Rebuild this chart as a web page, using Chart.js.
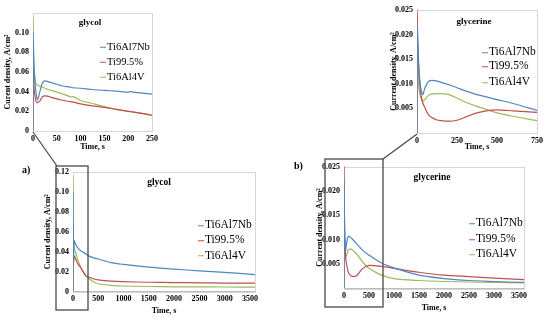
<!DOCTYPE html>
<html>
<head>
<meta charset="utf-8">
<script src="https://cdn.jsdelivr.net/npm/chart.js@4.4.0/dist/chart.umd.min.js"></script>
<style>
  body { margin: 0; background: #fff; }
  #wrap { position: relative; width: 550px; height: 322px; overflow: hidden; font-family: "Liberation Serif", serif; }
  canvas { position: absolute; }
  .ttl { position: absolute; font-weight: bold; font-size: 9px; transform: translate(-50%, -50%); white-space: nowrap; }
  .leg { position: absolute; font-size: 11px; line-height: 1; transform: translateY(-50%); white-space: nowrap; }
  .leg i { display: inline-block; width: 6px; height: 1px; vertical-align: middle; margin-right: 1px; }
  .tag { position: absolute; font-weight: bold; font-size: 10px; }
  svg { position: absolute; left: 0; top: 0; }
</style>
</head>
<body>
<div id="wrap">
  <svg width="550" height="322">
    <line x1="33" y1="132" x2="57" y2="166" stroke="#444" stroke-width="1.2"/>
    <rect x="56" y="166" width="32" height="144" fill="none" stroke="#555" stroke-width="1.4"/>
    <line x1="383" y1="159" x2="417" y2="134" stroke="#444" stroke-width="1.2"/>
    <rect x="325" y="159" width="58" height="148" fill="none" stroke="#555" stroke-width="1.4"/>
  </svg>
</div>
<script>
const seriesNames = ['Ti6Al7Nb', 'Ti99.5%', 'Ti6Al4V'];
const seriesColors = ['#4f86c0', '#c0504d', '#9bbb59'];

// tick labels
const glycolYTicks = [0, 0.02, 0.04, 0.06, 0.08, 0.10, 0.12];
const glycerineYTicks = [0.005, 0.010, 0.015, 0.020, 0.025];
const shortGlycolXTicks = [0, 50, 100, 150, 200, 250];
const shortGlycerineXTicks = [0, 250, 500, 750];
const fullXTicks = [0, 500, 1000, 1500, 2000, 2500, 3000, 3500];

// glycol, first 250 s
const glycolShortTime = [0, 0, 2, 5, 8, 10, 15, 20, 25, 30, 40, 50, 60, 75, 80, 85, 100, 125, 150, 175, 200, 205, 215, 250];
const glycolShortNb = [0, 0.100, 0.065, 0.045, 0.034, 0.032, 0.041, 0.049, 0.051, 0.0505, 0.049, 0.0475, 0.046, 0.0448, 0.0445, 0.044, 0.0435, 0.0422, 0.0413, 0.0405, 0.0395, 0.0400, 0.0392, 0.0375];
const glycolShortTi = [0, 0.070, 0.045, 0.033, 0.029, 0.029, 0.031, 0.035, 0.0358, 0.0355, 0.034, 0.0327, 0.0315, 0.030, 0.0297, 0.0293, 0.0275, 0.0255, 0.024, 0.022, 0.020, 0.0196, 0.019, 0.016];
const glycolShortV = [0, 0.115, 0.070, 0.050, 0.047, 0.0465, 0.0455, 0.0445, 0.0435, 0.0425, 0.041, 0.0395, 0.038, 0.0355, 0.0345, 0.035, 0.031, 0.028, 0.0248, 0.022, 0.020, 0.0197, 0.019, 0.0162];

// glycerine, first 750 s
const glycerineShortTime = [0, 0, 5, 10, 20, 35, 50, 70, 90, 120, 150, 200, 250, 300, 375, 450, 500, 600, 750];
const glycerineShortNb = [0, 0.022, 0.018, 0.014, 0.010, 0.0078, 0.0092, 0.0104, 0.0107, 0.0106, 0.0103, 0.0098, 0.0092, 0.0086, 0.0078, 0.0072, 0.0068, 0.0060, 0.0046];
const glycerineShortTi = [0, 0.025, 0.019, 0.014, 0.009, 0.0062, 0.0051, 0.0038, 0.0032, 0.0027, 0.0025, 0.0024, 0.0026, 0.0032, 0.0041, 0.0046, 0.0047, 0.0045, 0.0042];
const glycerineShortV = [0, 0.018, 0.014, 0.010, 0.0075, 0.0065, 0.0068, 0.0076, 0.0079, 0.0080, 0.0080, 0.0078, 0.0071, 0.0063, 0.0054, 0.0046, 0.0041, 0.0034, 0.0025];

// glycol, full run
const glycolTime = [0, 0, 10, 25, 50, 100, 150, 200, 250, 300, 400, 500, 750, 1000, 1500, 2000, 2500, 3000, 3600];
const glycolNb = [0, 0.100, 0.032, 0.051, 0.0475, 0.0435, 0.041, 0.0395, 0.038, 0.036, 0.034, 0.0326, 0.029, 0.0272, 0.0245, 0.0225, 0.0207, 0.0192, 0.0170];
const glycolTi = [0, 0.070, 0.029, 0.0358, 0.0327, 0.0275, 0.024, 0.020, 0.016, 0.0145, 0.0128, 0.0117, 0.0105, 0.0099, 0.0093, 0.0090, 0.0087, 0.0085, 0.0084];
const glycolV = [0, 0.115, 0.047, 0.0435, 0.0395, 0.031, 0.0248, 0.020, 0.0162, 0.0135, 0.0100, 0.0078, 0.0062, 0.0055, 0.0050, 0.0047, 0.0046, 0.0045, 0.0044];

// glycerine, full run
const glycerineTime = [0, 0, 10, 20, 35, 50, 90, 150, 250, 375, 500, 750, 1000, 1500, 2000, 2500, 3000, 3600];
const glycerineNb = [0, 0.022, 0.014, 0.010, 0.0078, 0.0092, 0.0107, 0.0103, 0.0092, 0.0078, 0.0068, 0.0052, 0.0042, 0.0027, 0.0020, 0.0016, 0.0014, 0.0012];
const glycerineTi = [0, 0.025, 0.014, 0.009, 0.0062, 0.0051, 0.0032, 0.0025, 0.0026, 0.0041, 0.0047, 0.0045, 0.0041, 0.0033, 0.0027, 0.0024, 0.0021, 0.0018];
const glycerineV = [0, 0.018, 0.010, 0.0075, 0.0065, 0.0068, 0.0079, 0.0080, 0.0071, 0.0054, 0.0041, 0.0027, 0.0020, 0.0016, 0.0014, 0.0013, 0.0012, 0.0011];

const wrap = document.getElementById('wrap');
const svgLayer = wrap.querySelector('svg');

const framePlugin = {
  id: 'frame',
  beforeDatasetsDraw(chart) {
    const { ctx, chartArea: a } = chart;
    ctx.save();
    ctx.strokeStyle = '#d6d6d6';
    ctx.lineWidth = 1;
    ctx.strokeRect(Math.round(a.left) + 0.5, Math.round(a.top) + 0.5, Math.round(a.right - a.left), Math.round(a.bottom - a.top));
    ctx.restore();
  }
};

const tickFont = { family: 'Liberation Serif', size: 8, weight: 'bold' };

function plot(cfg) {
  const [bx, by, bw, bh] = cfg.box;
  const [al, at, ar, ab] = cfg.area;
  const yLeft = cfg.yTitleX - 4.8;
  const xBottom = cfg.xTitleY + 4.8;

  const c = document.createElement('canvas');
  c.width = bw; c.height = bh;
  c.style.left = bx + 'px'; c.style.top = by + 'px';
  wrap.insertBefore(c, svgLayer);

  const datasets = cfg.values.map((vals, i) => ({
    label: seriesNames[i],
    data: vals.map((v, k) => ({ x: cfg.time[k], y: v })),
    borderColor: seriesColors[i],
    borderWidth: 1.2,
    pointRadius: 0,
    tension: 0.3,
    fill: false
  }));

  new Chart(c, {
    type: 'line',
    data: { datasets },
    plugins: [framePlugin],
    options: {
      responsive: false,
      animation: false,
      devicePixelRatio: 1,
      layout: { padding: { left: yLeft - bx, top: at - by, right: bx + bw - ar, bottom: by + bh - xBottom } },
      plugins: { legend: { display: false }, tooltip: { enabled: false } },
      scales: {
        x: {
          type: 'linear', min: 0, max: cfg.xMax,
          grid: { display: false, drawTicks: false },
          border: { color: '#bdbdbd' },
          ticks: { maxRotation: 0, autoSkip: false, padding: 3, color: '#000', font: tickFont, callback: v => String(v) },
          afterBuildTicks(s) { s.ticks = cfg.xTicks.map(v => ({ value: v })); },
          title: { display: true, text: 'Time, s', color: '#000', font: tickFont, padding: 0 },
          afterFit(s) { s.height = xBottom - ab; }
        },
        y: {
          min: 0, max: cfg.yMax,
          grid: { display: false, drawTicks: false },
          border: { color: '#bdbdbd' },
          ticks: { padding: 4, autoSkip: false, color: '#000', font: tickFont, callback: cfg.yLabel },
          afterBuildTicks(s) { s.ticks = cfg.yTicks.map(v => ({ value: v })); },
          title: { display: true, text: cfg.yTitle, color: '#000', font: tickFont, padding: 0 },
          afterFit(s) { s.width = al - yLeft; }
        }
      }
    }
  });

  const t = document.createElement('div');
  t.className = 'ttl';
  t.textContent = cfg.title;
  t.style.left = cfg.titlePos[0] + 'px';
  t.style.top = cfg.titlePos[1] + 'px';
  t.style.fontSize = cfg.titleSize + 'px';
  wrap.appendChild(t);

  seriesNames.forEach((name, i) => {
    const d = document.createElement('div');
    d.className = 'leg';
    d.style.left = cfg.legendX + 'px';
    d.style.top = cfg.legendY[i] + 'px';
    d.style.fontSize = cfg.legendSize + 'px';
    d.innerHTML = '<i style="background:' + seriesColors[i] + '"></i>';
    d.appendChild(document.createTextNode(name));
    wrap.appendChild(d);
  });
}

const glycolLabel = v => (v === 0 ? '0' : v.toFixed(2));
const glycerineLabel = v => v.toFixed(3);

plot({
  box: [0, 0, 165, 160], area: [33, 13, 152, 131], yTitleX: 8, xTitleY: 147,
  time: glycolShortTime, values: [glycolShortNb, glycolShortTi, glycolShortV],
  xMax: 250, xTicks: shortGlycolXTicks, yMax: 0.12, yTicks: glycolYTicks.slice(0, 6), yLabel: glycolLabel,
  yTitle: 'Curent density, A/cm²',
  title: 'glycol', titlePos: [90, 22], titleSize: 9,
  legendX: 100, legendY: [47, 62, 77], legendSize: 10.5
});

plot({
  box: [378, 0, 172, 160], area: [417, 10, 537, 133], yTitleX: 394, xTitleY: 147,
  time: glycerineShortTime, values: [glycerineShortNb, glycerineShortTi, glycerineShortV],
  xMax: 750, xTicks: shortGlycerineXTicks, yMax: 0.025, yTicks: glycerineYTicks, yLabel: glycerineLabel,
  yTitle: 'Current density, A/cm²',
  title: 'glycerine', titlePos: [474, 21], titleSize: 9,
  legendX: 482, legendY: [52, 66, 82], legendSize: 11.5
});

plot({
  box: [36, 160, 236, 162], area: [73, 172, 255, 291.5], yTitleX: 48, xTitleY: 311,
  time: glycolTime, values: [glycolNb, glycolTi, glycolV],
  xMax: 3600, xTicks: fullXTicks, yMax: 0.12, yTicks: glycolYTicks, yLabel: glycolLabel,
  yTitle: 'Curent density, A/cm²',
  title: 'glycol', titlePos: [159, 182], titleSize: 9.5,
  legendX: 198, legendY: [225, 240, 255.5], legendSize: 11.5
});

plot({
  box: [305, 155, 240, 167], area: [344, 166.7, 524, 288.3], yTitleX: 320, xTitleY: 308,
  time: glycerineTime, values: [glycerineNb, glycerineTi, glycerineV],
  xMax: 3600, xTicks: fullXTicks, yMax: 0.025, yTicks: glycerineYTicks, yLabel: glycerineLabel,
  yTitle: 'Current density, A/cm²',
  title: 'glycerine', titlePos: [432, 177], titleSize: 9.5,
  legendX: 469, legendY: [223, 239, 254], legendSize: 11.5
});

[['a)', 22, 164], ['b)', 294, 160]].forEach(([txt, x, y]) => {
  const d = document.createElement('div');
  d.className = 'tag';
  d.textContent = txt;
  d.style.left = x + 'px';
  d.style.top = y + 'px';
  wrap.appendChild(d);
});
</script>
</body>
</html>
